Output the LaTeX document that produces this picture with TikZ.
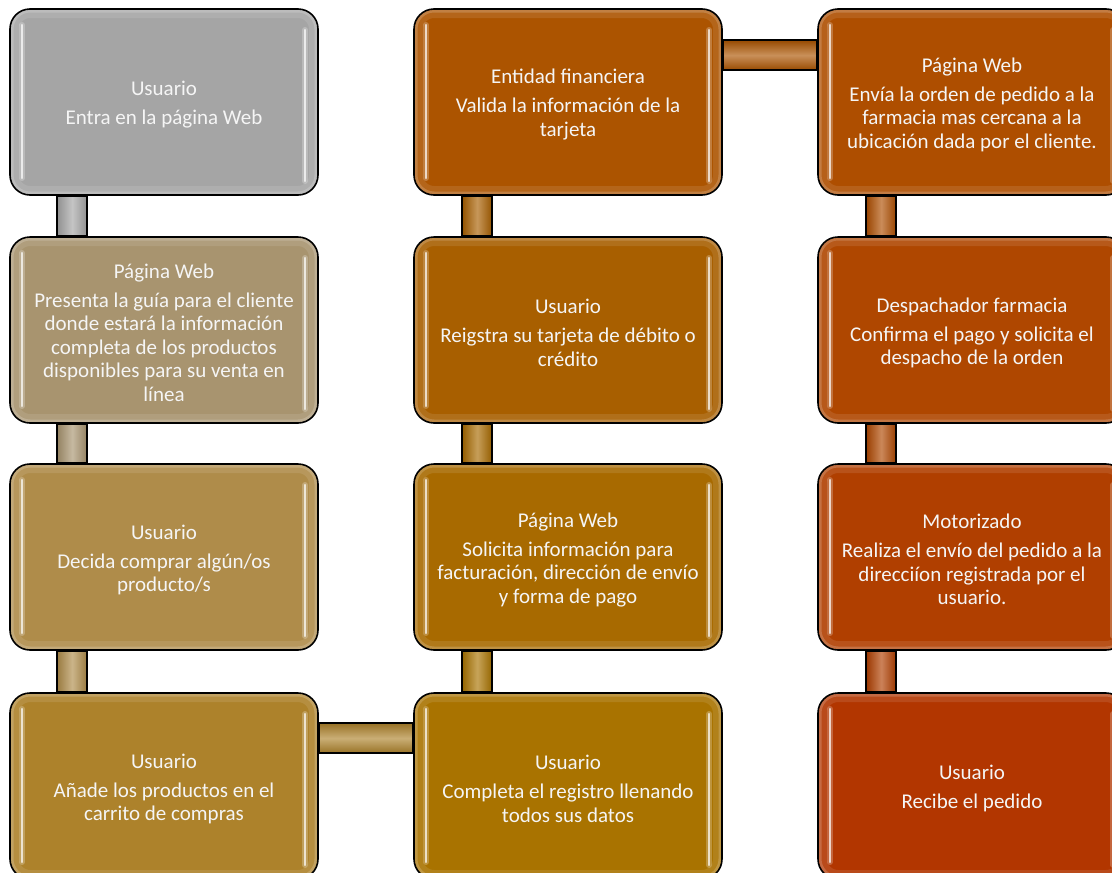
\documentclass[tikz,border=0pt]{standalone}
\usepackage{fontspec}
\setmainfont{Carlito}
\usetikzlibrary{calc}
\pgfdeclarelayer{bg}
\pgfsetlayers{bg,main}
\definecolor{cA}{HTML}{A5A5A5}
\definecolor{cB}{HTML}{A8946F}
\definecolor{cC}{HTML}{AF8C4A}
\definecolor{cD}{HTML}{AD822B}
\definecolor{cE}{HTML}{A97300}
\definecolor{cF}{HTML}{A86A00}
\definecolor{cG}{HTML}{A85F00}
\definecolor{cH}{HTML}{AC5400}
\definecolor{cI}{HTML}{AE4E00}
\definecolor{cJ}{HTML}{AF4700}
\definecolor{cK}{HTML}{B03F00}
\definecolor{cL}{HTML}{B23600}
\newcommand{\tstrut}{\rule{0pt}{20pt}}
\tikzset{
  flow/.style={draw=black, line width=1.6pt, rounded corners=20pt,
    minimum width=308pt, minimum height=186pt, inner sep=0pt,
    fill=#1, text=white!96!black, align=center,
    font=\fontsize{21}{23.5}\selectfont,
    path picture={
      \draw[white, opacity=0.10, line width=18pt, rounded corners=20pt]
        (path picture bounding box.south west) rectangle (path picture bounding box.north east);
      \draw[white, opacity=0.18, line width=7pt, rounded corners=20pt]
        (path picture bounding box.south west) rectangle (path picture bounding box.north east);
      \draw[#1!40!white, opacity=0.4, line width=6pt, line cap=round]
        ([shift={(12pt,-16pt)}]path picture bounding box.north west) --
        ([shift={(12pt,17pt)}]path picture bounding box.south west);
      \draw[#1!40!white, opacity=0.4, line width=6pt, line cap=round]
        ([shift={(-13pt,-21pt)}]path picture bounding box.north east) --
        ([shift={(-13pt,14pt)}]path picture bounding box.south east);
      \draw[#1!22!white, line width=2.6pt, line cap=round]
        ([shift={(12pt,-16pt)}]path picture bounding box.north west) --
        ([shift={(12pt,17pt)}]path picture bounding box.south west);
      \draw[#1!22!white, line width=2.6pt, line cap=round]
        ([shift={(-13pt,-21pt)}]path picture bounding box.north east) --
        ([shift={(-13pt,14pt)}]path picture bounding box.south east);
    }},
  vbar/.style={draw=black, line width=1.5pt, left color=#1!88!black,
    right color=#1!88!black, middle color=#1!65!white},
  hbar/.style={draw=black, line width=1.5pt, top color=#1!88!black,
    bottom color=#1!88!black, middle color=#1!65!white},
}
\begin{document}
\begin{tikzpicture}[x=1pt,y=-1pt]
\useasboundingbox (0,0) rectangle (1112,873);
\clip (0,0) rectangle (1112,873);
% boxes
\node[flow=cA] (b11) at (164,102) {\tstrut Usuario\\[5.5pt]Entra en la página Web};
\node[flow=cB] (b12) at (164,330) {\tstrut Página Web\\[5.5pt]Presenta la guía para el cliente\\donde estará la información\\completa de los productos\\disponibles para su venta en\\línea};
\node[flow=cC] (b13) at (164,557) {\tstrut Usuario\\[5.5pt]Decida comprar algún/os\\producto/s};
\node[flow=cD] (b14) at (164,786) {\tstrut Usuario\\[5.5pt]Añade los productos en el\\carrito de compras};
\node[flow=cE] (b24) at (568,786) {\tstrut Usuario\\[5.5pt]Completa el registro llenando\\todos sus datos};
\node[flow=cF] (b23) at (568,557) {\tstrut Página Web\\[5.5pt]Solicita información para\\facturación, dirección de envío\\y forma de pago};
\node[flow=cG] (b22) at (568,330) {\tstrut Usuario\\[5.5pt]Reigstra su tarjeta de débito o\\crédito};
\node[flow=cH] (b21) at (568,102) {\tstrut Entidad financiera\\[5.5pt]Valida la información de la\\tarjeta};
\node[flow=cI] (b31) at (972,102) {\tstrut Página Web\\[5.5pt]Envía la orden de pedido a la\\farmacia mas cercana a la\\ubicación dada por el cliente.};
\node[flow=cJ] (b32) at (972,330) {\tstrut Despachador farmacia\\[5.5pt]Confirma el pago y solicita el\\despacho de la orden};
\node[flow=cK] (b33) at (972,557) {\tstrut Motorizado\\[5.5pt]Realiza el envío del pedido a la\\direcciíon registrada por el\\usuario.};
\node[flow=cL] (b34) at (972,786) {\tstrut Usuario\\[5.5pt]Recibe el pedido};
% connectors
\begin{pgfonlayer}{bg}
\draw[vbar=cA] ([xshift=48pt]b11.south west) rectangle ([xshift=78pt]b12.north west);
\draw[vbar=cB] ([xshift=48pt]b12.south west) rectangle ([xshift=78pt]b13.north west);
\draw[vbar=cC] ([xshift=48pt]b13.south west) rectangle ([xshift=78pt]b14.north west);
\draw[hbar=cD] ([yshift=-31pt]b14.north east) rectangle ([yshift=-61pt]b24.north west);
\draw[vbar=cE] ([xshift=49pt]b24.north west) rectangle ([xshift=79pt]b23.south west);
\draw[vbar=cF] ([xshift=49pt]b23.north west) rectangle ([xshift=79pt]b22.south west);
\draw[vbar=cG] ([xshift=49pt]b22.north west) rectangle ([xshift=79pt]b21.south west);
\draw[hbar=cH] ([yshift=-32pt]b21.north east) rectangle ([yshift=-62pt]b31.north west);
\draw[vbar=cI] ([xshift=49pt]b31.south west) rectangle ([xshift=79pt]b32.north west);
\draw[vbar=cJ] ([xshift=49pt]b32.south west) rectangle ([xshift=79pt]b33.north west);
\draw[vbar=cK] ([xshift=49pt]b33.south west) rectangle ([xshift=79pt]b34.north west);
\end{pgfonlayer}
\end{tikzpicture}
\end{document}
